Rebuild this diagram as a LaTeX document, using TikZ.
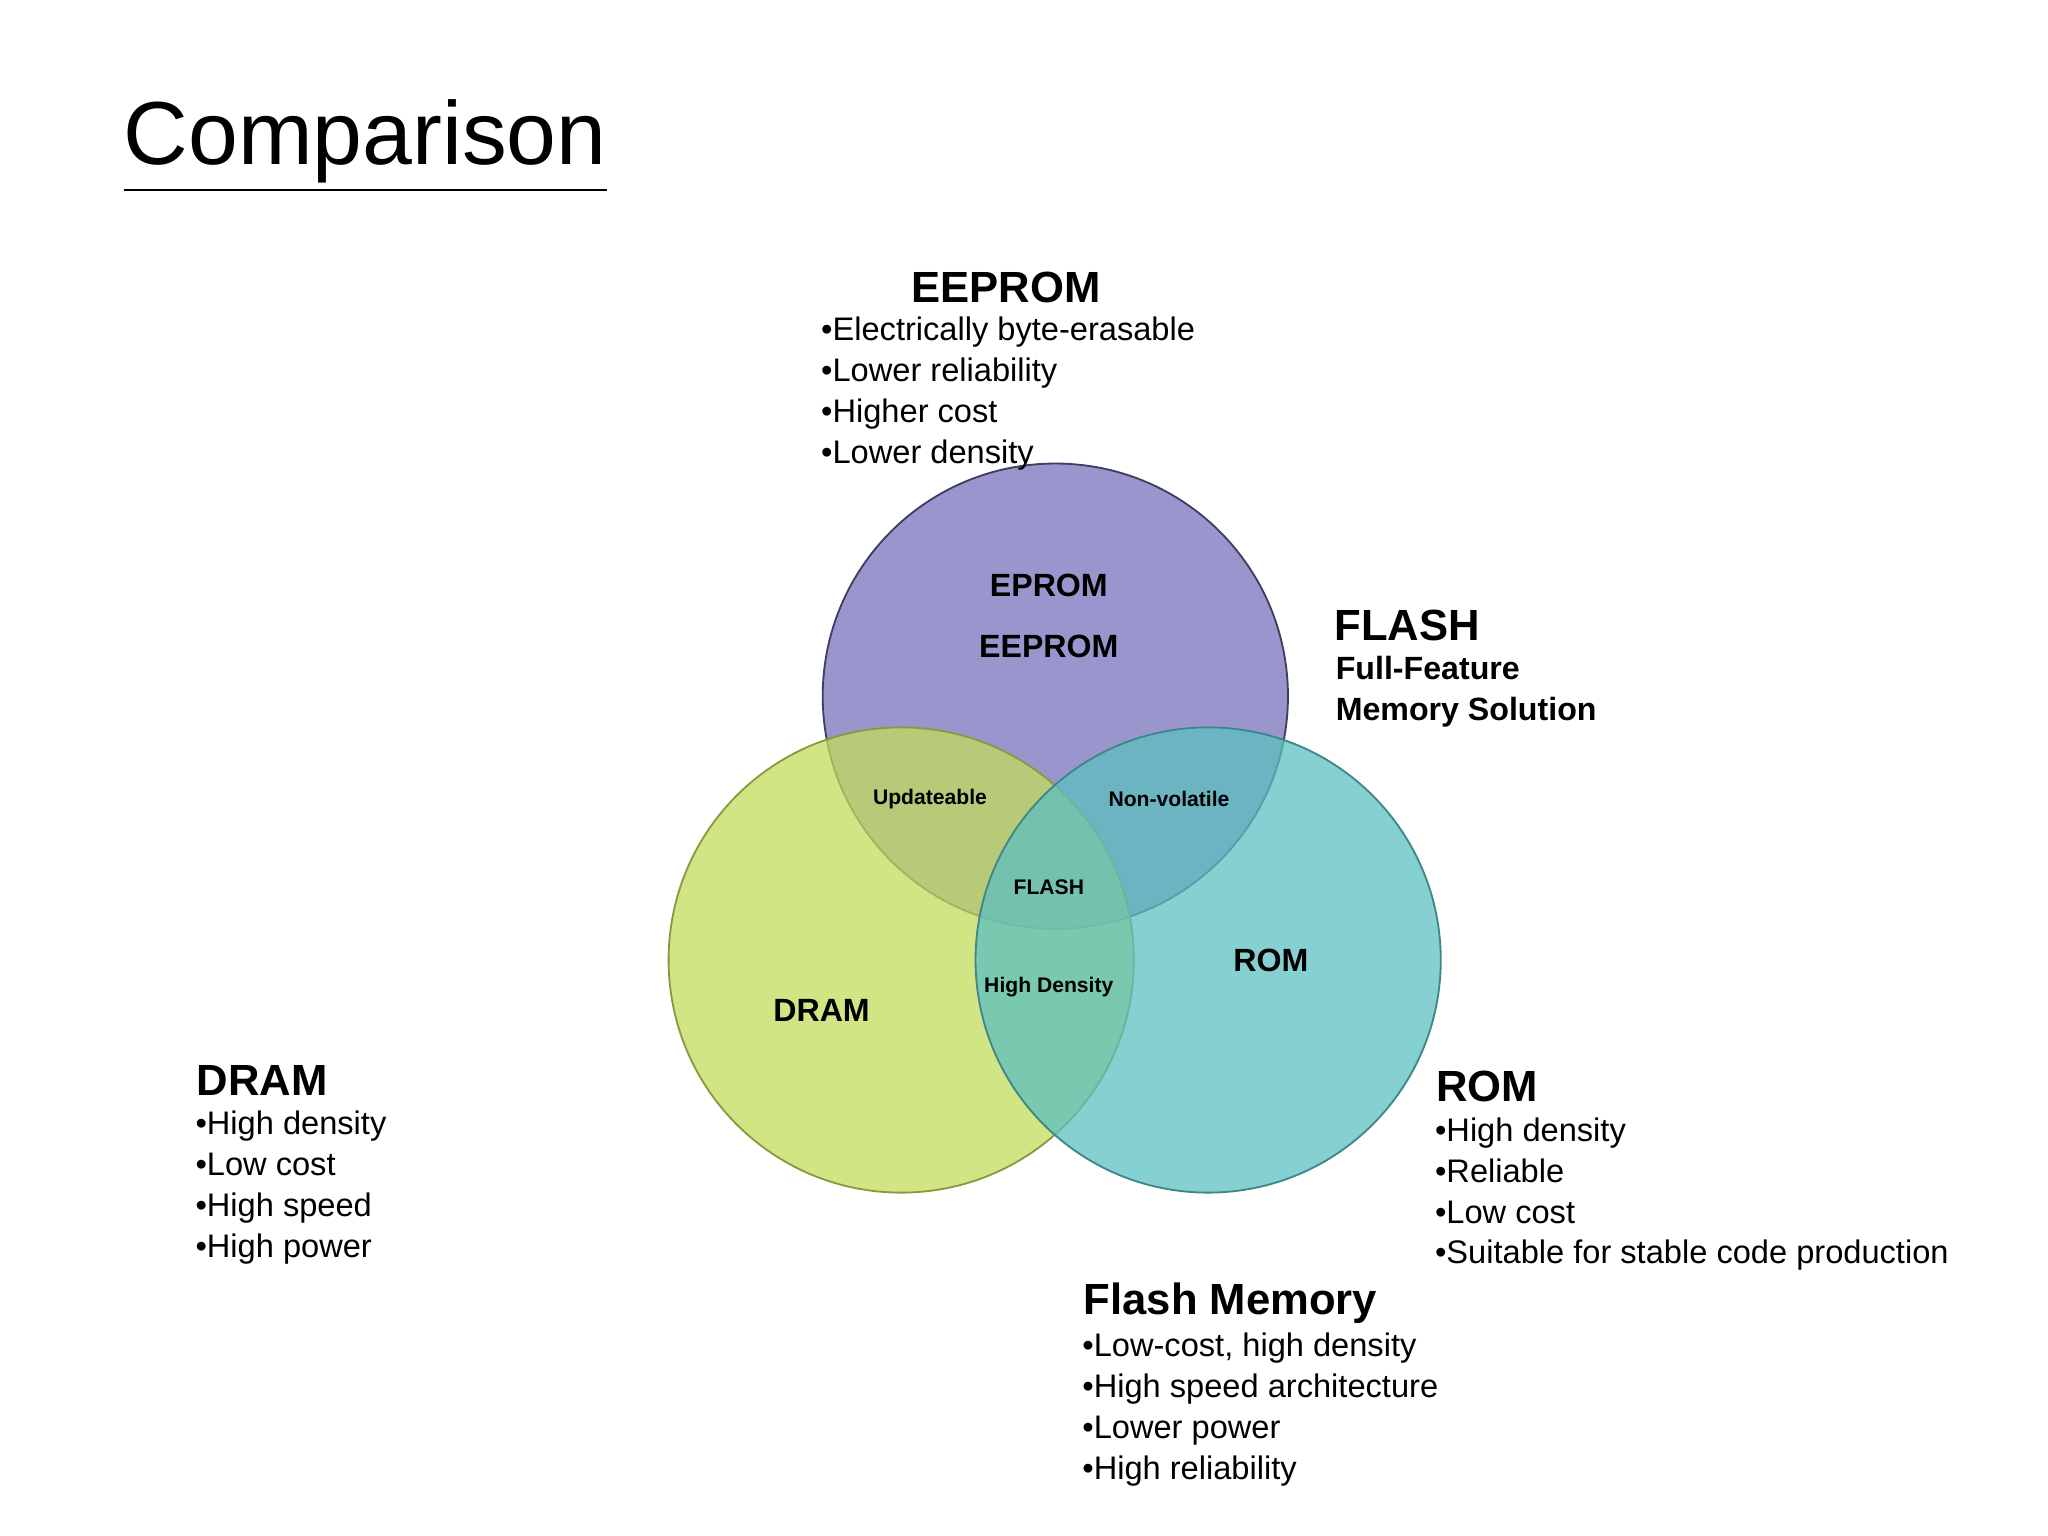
\documentclass[tikz,border=0pt]{standalone}
\usepackage{fontspec}
\setmainfont{Liberation Sans}
\usepackage{tikz}
\definecolor{eeprom}{HTML}{7F7CC0}
\definecolor{dram}{HTML}{C2DC5C}
\definecolor{rom}{HTML}{5CC0C0}
\tikzset{
  head/.style={font=\fontsize{9.5}{11}\selectfont\bfseries, anchor=west, inner sep=0pt},
  list/.style={font=\fontsize{7.1}{8.9}\selectfont, anchor=north west, align=left, inner sep=0pt},
  inlabel/.style={font=\fontsize{7}{8}\selectfont\bfseries},
  small/.style={font=\fontsize{4.6}{5.5}\selectfont\bfseries},
  set/.style={circle, minimum size=3.56cm, inner sep=0pt}
}
\begin{document}
\begin{tikzpicture}[x=0.01cm,y=-0.01cm]
\useasboundingbox (0,0) rectangle (1568,1176);
\node[set, draw=eeprom!50!black, fill=eeprom, fill opacity=0.8] (top) at (808,533) {};
\node[set, draw=dram!70!black, fill=dram, fill opacity=0.75] (left) at (690,735) {};
\node[set, draw=rom!70!black, fill=rom, fill opacity=0.75] (right) at (925,735) {};
\node[font=\fontsize{19.5}{24}\selectfont, anchor=west, inner sep=0pt] (title) at (94,112) {\underline{Comparison}};
% labels inside
\node[inlabel] (ep) at (803,448) {EPROM};
\node[inlabel] (eep) at (803,495) {EEPROM};
\node[inlabel] (dr) at (629,774) {DRAM};
\node[inlabel] (ro) at (973,735) {ROM};
\node[small] (up) at (712,612) {Updateable};
\node[small] (nv) at (895,612) {Non-volatile};
\node[small] (fl) at (803,679) {FLASH};
\node[small] (hd) at (803,756) {High Density};
% side texts
\node[head] (h1) at (697,220) {EEPROM};
\node[list] (l1) at (628,242) {•Electrically byte-erasable\\•Lower reliability\\•Higher cost\\•Lower density};
\node[head] (h2) at (1021,479) {FLASH};
\node[list, font=\fontsize{7}{8.9}\selectfont\bfseries] (l2) at (1022,502) {Full-Feature\\Memory Solution};
\node[head] (h3) at (150,827) {DRAM};
\node[list] (l3) at (149,850) {•High density\\•Low cost\\•High speed\\•High power};
\node[head] (h4) at (1099,832) {ROM};
\node[list] (l4) at (1098,855) {•High density\\•Reliable\\•Low cost\\•Suitable for stable code production};
\node[head] (h5) at (829,998) {Flash Memory};
\node[list] (l5) at (828,1020) {•Low-cost, high density\\•High speed architecture\\•Lower power\\•High reliability};
\end{tikzpicture}
\end{document}
